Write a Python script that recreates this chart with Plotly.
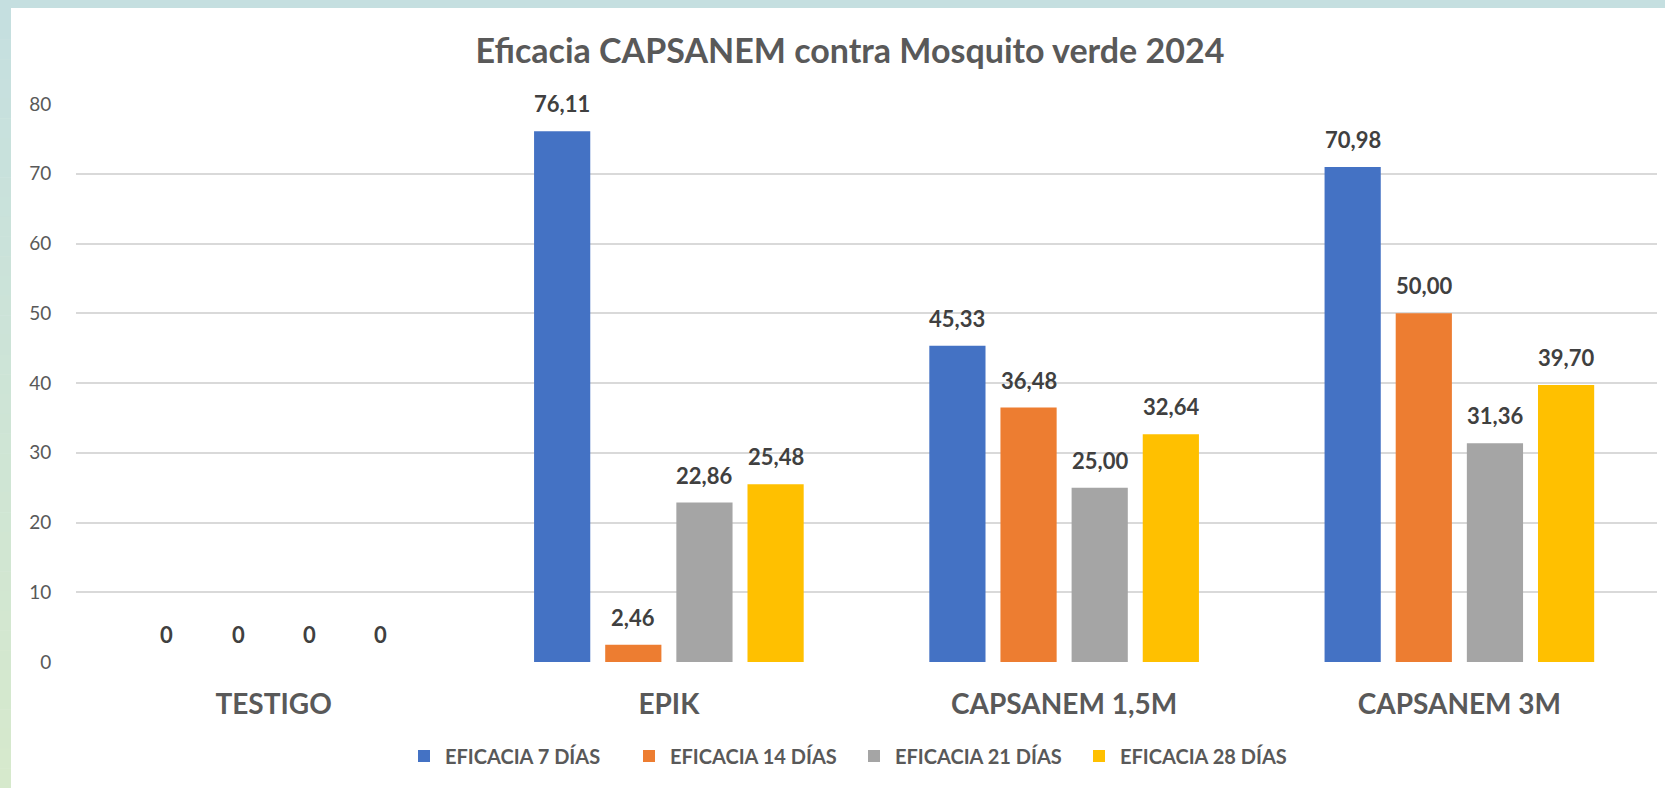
import plotly.graph_objects as go

categories = ["TESTIGO", "EPIK", "CAPSANEM 1,5M", "CAPSANEM 3M"]
series_names = ["EFICACIA 7 DÍAS", "EFICACIA 14 DÍAS", "EFICACIA 21 DÍAS", "EFICACIA 28 DÍAS"]
eficacia_7 = [0, 76.11, 45.33, 70.98]
eficacia_14 = [0, 2.46, 36.48, 50.00]
eficacia_21 = [0, 22.86, 25.00, 31.36]
eficacia_28 = [0, 25.48, 32.64, 39.70]
series_values = [eficacia_7, eficacia_14, eficacia_21, eficacia_28]
colors = ["#4472C4", "#ED7D31", "#A5A5A5", "#FFC000"]
y_ticks = [0, 10, 20, 30, 40, 50, 60, 70, 80]

W, H = 1665, 788
L, R, T, B = 76, 8, 104, 126
PW, PH = W - L - R, H - T - B
FONT = "Lato"
BARGAP = 0.28
GROUPGAP = 0.21


def fmt(v):
    return "0" if v == 0 else f"{v:.2f}".replace(".", ",")


def px_x(px):
    return (px - L) / PW


def px_y(py):
    return (H - B - py) / PH


fig = go.Figure()
for name, vals, col in zip(series_names, series_values, colors):
    fig.add_trace(go.Bar(x=categories, y=vals, name=name, marker_color=col,
                         marker_line_width=0))

annotations = []
n = len(series_values)
slot = (1 - BARGAP) / n
for j, vals in enumerate(series_values):
    off = (j - (n - 1) / 2) * slot
    for i, v in enumerate(vals):
        annotations.append(dict(x=i + off, y=v, xref="x", yref="y", text=fmt(v),
                                showarrow=False, yanchor="bottom", yshift=12,
                                font=dict(family=FONT, size=22, color="#404040", weight="bold")))

shapes = [dict(type="rect", xref="paper", yref="paper", x0=px_x(0), x1=px_x(W),
               y0=px_y(0), y1=px_y(8), fillcolor="#c5dfe0", line_width=0, layer="below")]
# left gradient strip
top_c = (197, 223, 224)
bot_c = (214, 233, 204)
nb = 40
for k in range(nb):
    t = k / (nb - 1)
    c = tuple(round(top_c[m] + (bot_c[m] - top_c[m]) * t) for m in range(3))
    y0 = H * k / nb
    y1 = H * (k + 1) / nb
    shapes.append(dict(type="rect", xref="paper", yref="paper", x0=px_x(0), x1=px_x(11),
                       y0=px_y(y1 + 0.5), y1=px_y(y0), fillcolor="rgb(%d,%d,%d)" % c,
                       line_width=0, layer="below"))

fig.update_layout(
    width=W, height=H,
    margin=dict(l=L, r=R, t=T, b=B, autoexpand=False),
    paper_bgcolor="white", plot_bgcolor="rgba(0,0,0,0)",
    barmode="group", bargap=BARGAP, bargroupgap=GROUPGAP,
    title=dict(text="<b>Eficacia CAPSANEM contra Mosquito verde 2024</b>",
               x=850 / W, xanchor="center", y=1 - 51 / H, yanchor="middle",
               font=dict(family=FONT, size=34, color="#595959")),
    xaxis=dict(showgrid=False, showline=False, zeroline=False,
               ticks="outside", ticklen=17, tickcolor="rgba(0,0,0,0)",
               tickfont=dict(family=FONT, size=28, color="#595959", weight="bold")),
    yaxis=dict(range=[0, 80], tickvals=y_ticks, showgrid=True, gridcolor="#d9d9d9",
               gridwidth=1.5, zeroline=False, showline=False,
               ticks="outside", ticklen=20, tickcolor="rgba(0,0,0,0)",
               tickfont=dict(family=FONT, size=19, color="#595959")),
    legend=dict(orientation="h", x=px_x(853), xanchor="center", y=px_y(756), yanchor="middle",
                font=dict(family=FONT, size=20, color="#595959", weight="bold"),
                itemwidth=32, entrywidth=178, entrywidthmode="pixels", traceorder="normal"),
    annotations=annotations,
    shapes=shapes,
    showlegend=True,
)
fig.write_html("out.html", config={"displayModeBar": False},
               post_script="document.body.style.margin='0';document.body.style.overflow='hidden';")
